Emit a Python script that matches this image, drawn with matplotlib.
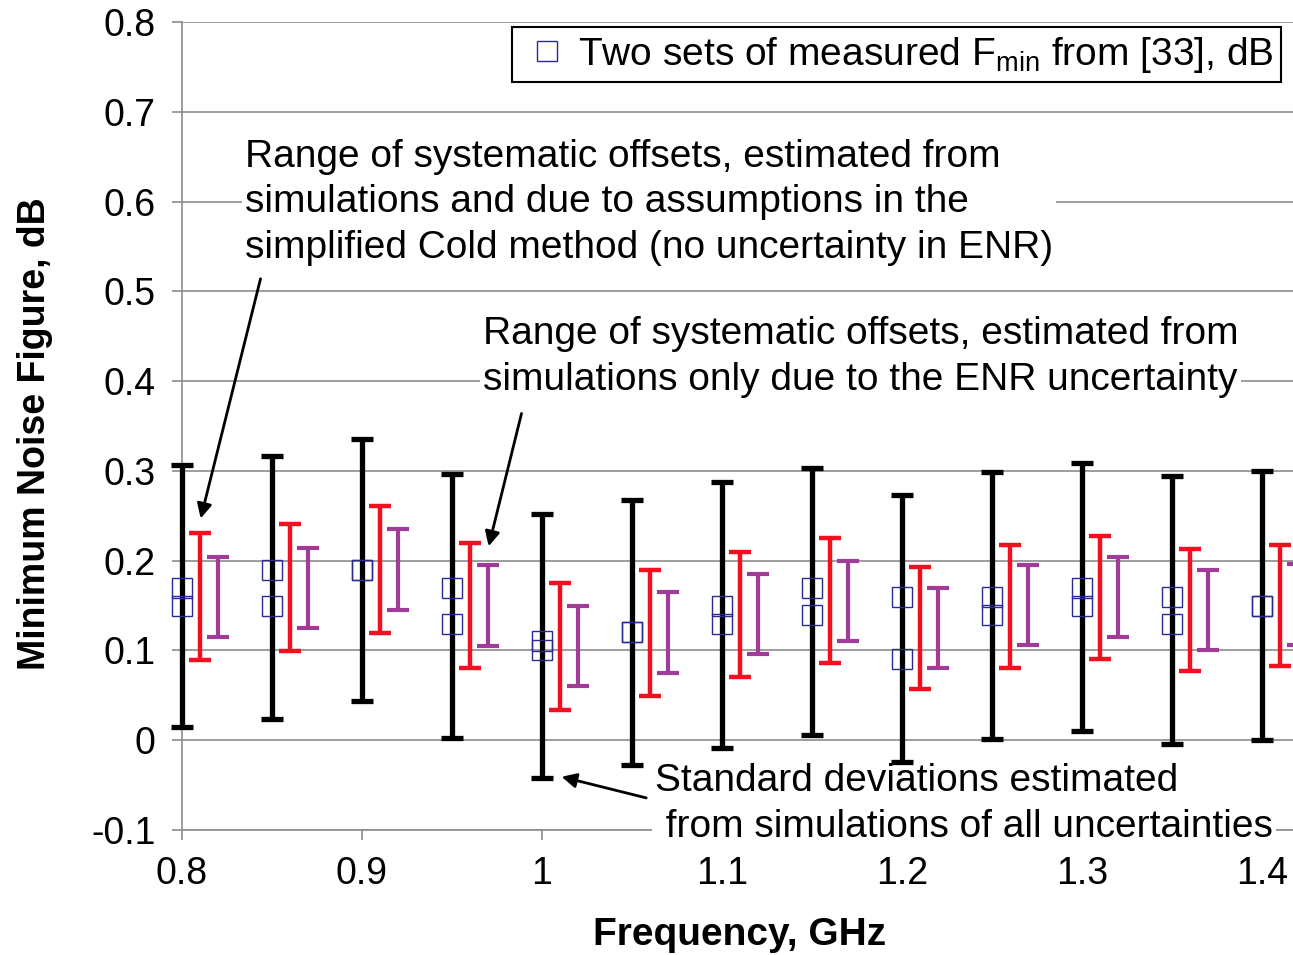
import numpy as np
import matplotlib
matplotlib.use('Agg')
import matplotlib.pyplot as plt

# measured Fmin, two sets, dB
freq = np.array([0.80, 0.85, 0.90, 0.95, 1.00, 1.05, 1.10, 1.15, 1.20, 1.25, 1.30, 1.35, 1.40])
fmin_set1 = [0.17, 0.19, 0.19, 0.17, 0.11, 0.12, 0.15, 0.17, 0.16, 0.16, 0.17, 0.16, 0.15]
fmin_set2 = [0.15, 0.15, 0.19, 0.13, 0.10, 0.12, 0.13, 0.14, 0.09, 0.14, 0.15, 0.13, 0.15]

# std. deviations, all uncertainties (black)
all_hi = np.array([0.307, 0.317, 0.336, 0.297, 0.252, 0.268, 0.288, 0.303, 0.273, 0.299, 0.309, 0.294, 0.300])
all_lo = np.array([0.015, 0.024, 0.044, 0.003, -0.042, -0.028, -0.009, 0.006, -0.024, 0.001, 0.010, -0.004, 0.000])
# systematic offsets, cold method assumptions (red)
cold_hi = np.array([0.231, 0.241, 0.261, 0.220, 0.175, 0.190, 0.210, 0.225, 0.193, 0.218, 0.228, 0.213, 0.217])
cold_lo = np.array([0.089, 0.099, 0.119, 0.080, 0.034, 0.049, 0.070, 0.086, 0.057, 0.081, 0.091, 0.077, 0.083])
# systematic offsets, ENR uncertainty only (purple)
enr_hi = np.array([0.204, 0.214, 0.235, 0.195, 0.150, 0.165, 0.185, 0.200, 0.170, 0.195, 0.204, 0.190, 0.196])
enr_lo = np.array([0.115, 0.125, 0.145, 0.105, 0.060, 0.075, 0.096, 0.110, 0.081, 0.106, 0.115, 0.100, 0.106])

yticks = [-0.1, 0, 0.1, 0.2, 0.3, 0.4, 0.5, 0.6, 0.7, 0.8]
ytick_labels = ['-0.1', '0', '0.1', '0.2', '0.3', '0.4', '0.5', '0.6', '0.7', '0.8']
xticks = [0.8, 0.9, 1.0, 1.1, 1.2, 1.3, 1.4]
xtick_labels = ['0.8', '0.9', '1', '1.1', '1.2', '1.3', '1.4']

plt.rcParams['font.family'] = ['Liberation Sans', 'DejaVu Sans']
plt.rcParams['mathtext.fontset'] = 'custom'
plt.rcParams['mathtext.rm'] = 'Liberation Sans'

fig = plt.figure(figsize=(12.93, 9.55), dpi=100)
ax = fig.add_axes([182/1293, 1 - 830/955, 1 - 182/1293, 808/955])

def bars(x, lo, hi, color, lw):
    mid = (lo + hi) / 2
    eb = ax.errorbar(x, mid, yerr=(hi - lo) / 2, fmt='none', ecolor=color,
                     elinewidth=lw, capsize=8, capthick=lw, zorder=5)
    for art in eb.lines[1] + eb.lines[2]:
        art.set_clip_on(False)

bars(freq, all_lo, all_hi, 'black', 3.8)
bars(freq + 0.01, cold_lo, cold_hi, '#f01020', 3.2)
bars(freq + 0.02, enr_lo, enr_hi, '#a03c98', 3.0)

ax.plot(freq, fmin_set1, 's', ms=14, mfc='none', mec='#2a2a90', mew=1.0, zorder=6,
        clip_on=False, label='Two sets of measured F$_{\\mathrm{min}}$ from [33], dB')
ax.plot(freq, fmin_set2, 's', ms=14, mfc='none', mec='#2a2a90', mew=1.0, zorder=6,
        clip_on=False)

ax.set_xlim(0.8, 0.8 + 1111/1800)
ax.set_ylim(-0.1, 0.8)
ax.set_yticks(yticks)
ax.set_yticklabels(ytick_labels)
ax.set_xticks(xticks)
ax.set_xticklabels(xtick_labels)
ax.tick_params(axis='both', labelsize=27, color='#8c8c8c', direction='out', length=7, width=1.2)
ax.tick_params(axis='y', pad=12)
ax.tick_params(axis='x', pad=12)
ax.yaxis.grid(True, color='#8c8c8c', lw=1.2)
ax.set_axisbelow(True)
for s in ['top', 'right']:
    ax.spines[s].set_visible(False)
for s in ['left', 'bottom']:
    ax.spines[s].set_color('#8c8c8c')
    ax.spines[s].set_linewidth(1.2)

ax.set_xlabel('Frequency, GHz', fontsize=28, fontweight='bold')
ax.xaxis.set_label_coords(0.502, -0.108)
ax.set_ylabel('Minimum Noise Figure, dB', fontsize=27, fontweight='bold')
ax.yaxis.set_label_coords(-0.116, 0.49)

leg = ax.legend(loc='upper left', bbox_to_anchor=(0.297, 0.994), fontsize=28,
                frameon=True, fancybox=False, borderaxespad=0, handlelength=1.4,
                handletextpad=0.1, borderpad=0.2)
leg.get_frame().set_edgecolor('black')
leg.get_frame().set_linewidth(1.5)
leg.get_frame().set_alpha(1)

box = dict(facecolor='white', edgecolor='none', pad=2)
ax.text(0.835, 0.599, 'Range of systematic offsets, estimated from\n'
        'simulations and due to assumptions in the\n'
        'simplified Cold method (no uncertainty in ENR)',
        fontsize=28, va='center', ha='left', linespacing=1.35, bbox=box, zorder=3)
ax.text(0.967, 0.427, 'Range of systematic offsets, estimated from\n'
        'simulations only due to the ENR uncertainty',
        fontsize=28, va='center', ha='left', linespacing=1.35, bbox=box, zorder=3)
ax.text(1.0628, -0.071, 'Standard deviations estimated\n'
        ' from simulations of all uncertainties',
        fontsize=28, va='center', ha='left', linespacing=1.35, bbox=box, zorder=3)

arrow = dict(arrowstyle='-|>', color='black', lw=2, mutation_scale=22)
ax.annotate('', xy=(0.81, 0.244), xytext=(0.844, 0.517), arrowprops=arrow, zorder=7)
ax.annotate('', xy=(0.970, 0.213), xytext=(0.989, 0.367), arrowprops=arrow, zorder=7)
ax.annotate('', xy=(1.0094, -0.040), xytext=(1.0594, -0.065), arrowprops=arrow, zorder=7)

fig.savefig('out.png', dpi=100)
